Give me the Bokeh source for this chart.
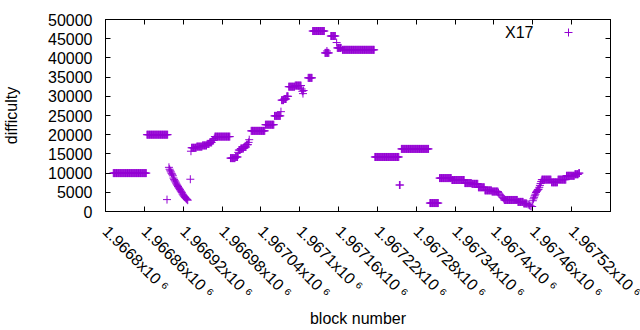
import math
from bokeh.plotting import figure
from bokeh.models import (FixedTicker, LinearAxis, Range1d, CustomJSTickFormatter,
                          Label, Legend, LegendItem, ColumnDataSource)
from bokeh.embed import file_html
from bokeh.resources import INLINE

# ---- data (block offsets from BASE, run of constant difficulty) ----
BASE = 1966800
run_first = [12, 64, 95,
             98, 99, 100, 101, 102, 103, 104, 105, 106, 107, 108, 109, 110, 111, 112,
             113, 114, 115, 116, 117, 118, 119, 120, 121, 122, 123, 124, 125, 126, 127,
             131, 132, 133, 141, 150, 157, 161, 165, 168, 169,
             193, 201, 205, 206, 209, 214, 218, 221, 222,
             225, 247, 261, 271, 272, 276, 280, 283, 293, 303, 304, 305, 306,
             313, 320, 339, 342, 348, 357, 358, 366,
             416, 454, 457, 501, 516, 535, 555, 566, 576, 586, 597,
             607, 609, 611, 613, 615, 616, 637, 646, 651, 653, 655, 657, 659,
             660, 661, 662, 663, 664, 665, 666, 667, 668, 669, 670, 671, 672, 673,
             674, 689, 699, 712, 725, 731]
run_last = [63, 96, 95,
            98, 99, 100, 101, 102, 103, 104, 105, 106, 107, 108, 109, 110, 111, 112,
            113, 114, 115, 116, 117, 118, 119, 120, 121, 122, 123, 124, 125, 126, 127,
            131, 132, 140, 149, 156, 160, 164, 167, 168, 192,
            200, 204, 205, 208, 213, 217, 220, 221, 222,
            246, 260, 270, 271, 275, 279, 282, 292, 302, 303, 304, 305, 306,
            319, 338, 345, 342, 355, 357, 364, 415,
            453, 455, 499, 514, 534, 554, 565, 575, 585, 596, 606,
            607, 609, 611, 613, 615, 636, 645, 650, 651, 653, 655, 657, 659,
            660, 661, 662, 663, 664, 665, 666, 667, 668, 669, 670, 671, 672, 673,
            688, 698, 711, 724, 730, 732]
run_diff = [10000, 20000, 3100,
            11500, 11000, 10600, 10300, 9950, 9700, 9300, 8700, 8300, 8000, 7700, 7400, 7100, 6800, 6500,
            6200, 5950, 5700, 5400, 5150, 4900, 4550, 4300, 4050, 3850, 3650, 3450, 3300, 3100, 2950,
            8400, 15700, 16600, 16900, 17200, 17600, 18000, 18500, 19000, 19500,
            13900, 14200, 15400, 16000, 16400, 16800, 17400, 18000, 18700,
            21000, 22600, 24900, 26000, 29000, 29300, 30000, 32500, 32800, 31900, 31300, 30700, 31500,
            34800, 47000, 41300, 41800, 45700, 44000, 42600, 42100,
            14200, 6900, 16300, 2200, 8700, 8200, 7400, 7200, 6300, 5500, 5200,
            4900, 4500, 4100, 3700, 3400, 3000, 2500, 2100, 2000, 1800, 1600, 1400, 1300,
            2800, 3300, 3700, 4100, 4500, 4950, 5200, 5500, 5700, 5800, 6300, 6800, 7300, 7800,
            8300, 7600, 8300, 9300, 9700, 10000]

x_ticks = [1966800, 1966860, 1966920, 1966980, 1967040, 1967100, 1967160,
           1967220, 1967280, 1967340, 1967400, 1967460, 1967520, 1967580]
y_ticks = [0, 5000, 10000, 15000, 20000, 25000, 30000, 35000, 40000, 45000, 50000]
series_name = "X17"

blocks, diffs = [], []
for f, l, d in zip(run_first, run_last, run_diff):
    for b in range(f, l + 1):
        blocks.append(BASE + b)
        diffs.append(d)
src = ColumnDataSource(dict(block=blocks, difficulty=diffs))

FONT = "Liberation Sans"
FS = "16px"
PURPLE = "#9400D3"

def tick_text(v):
    return ("%.5f" % (v / 1e6)).rstrip("0").rstrip(".") + "x10 \u2076"

p = figure(frame_width=505, frame_height=192, output_backend="svg", toolbar_location=None,
           x_range=Range1d(x_ticks[0], x_ticks[-1]), y_range=Range1d(y_ticks[0], y_ticks[-1]),
           min_border_left=104, min_border_right=31, min_border_top=19, min_border_bottom=100)
p.xgrid.visible = False
p.ygrid.visible = False
p.outline_line_color = "black"
p.outline_line_width = 1
p.background_fill_color = "white"
p.border_fill_color = "white"

r = p.scatter("block", "difficulty", source=src, marker="cross", size=8,
              line_color=PURPLE, line_width=1)

xt = FixedTicker(ticks=x_ticks)
yt = FixedTicker(ticks=y_ticks)

xa = p.xaxis[0]
xa.ticker = xt
xa.formatter = CustomJSTickFormatter(code="""
  let s = (tick/1e6).toFixed(5).replace(/0+$/, '').replace(/\\.$/, '');
  return s + "x10 \\u2076";
""")
# the last label runs off the page edge, as in the original: drawn as a free label
xa.major_label_overrides = {x_ticks[-1]: ""}
xa.major_label_orientation = -math.pi / 4
xa.axis_label = "block number"

ya = p.yaxis[0]
ya.ticker = yt
ya.axis_label = "difficulty"

for ax in (xa, ya):
    ax.major_tick_in = 5
    ax.major_tick_out = 0
    ax.minor_tick_line_color = None
    ax.axis_line_color = "black"
    ax.major_tick_line_color = "black"
    ax.major_label_text_font = FONT
    ax.major_label_text_font_size = FS
    ax.major_label_text_color = "black"
    ax.axis_label_text_font = FONT
    ax.axis_label_text_font_size = FS
    ax.axis_label_text_font_style = "normal"
    ax.axis_label_text_color = "black"
xa.major_label_standoff = 17
xa.axis_label_standoff = 0
ya.major_label_standoff = 13
ya.axis_label_standoff = 25

blank = "return ''"
top = LinearAxis(ticker=xt, formatter=CustomJSTickFormatter(code=blank),
                 major_tick_in=5, major_tick_out=0, minor_tick_line_color=None,
                 major_label_standoff=0, axis_line_color="black")
p.add_layout(top, "above")
right = LinearAxis(ticker=yt, formatter=CustomJSTickFormatter(code=blank),
                   major_tick_in=5, major_tick_out=0, minor_tick_line_color=None,
                   major_label_standoff=0, axis_line_color="black")
p.add_layout(right, "right")

p.add_layout(Label(x=x_ticks[-1], y=-14, x_units="data", y_units="screen",
                   text=tick_text(x_ticks[-1]), angle=-math.pi / 4,
                   text_align="left", text_baseline="top", text_font=FONT,
                   text_font_size=FS, text_color="black"))

# key: text then sample marker, as in the original
p.add_layout(Label(x=428, y=179.5, x_units="screen", y_units="screen", text=series_name,
                   text_align="right", text_baseline="middle", text_font=FONT,
                   text_font_size=FS, text_color="black"))
leg = Legend(items=[LegendItem(label="", renderers=[r])], location=(453, 169),
             padding=0, margin=0, spacing=0, label_standoff=0, label_width=0,
             glyph_width=20, glyph_height=20, border_line_alpha=0, background_fill_alpha=0)
p.add_layout(leg)

open("out.html", "w").write(file_html(p, INLINE))
